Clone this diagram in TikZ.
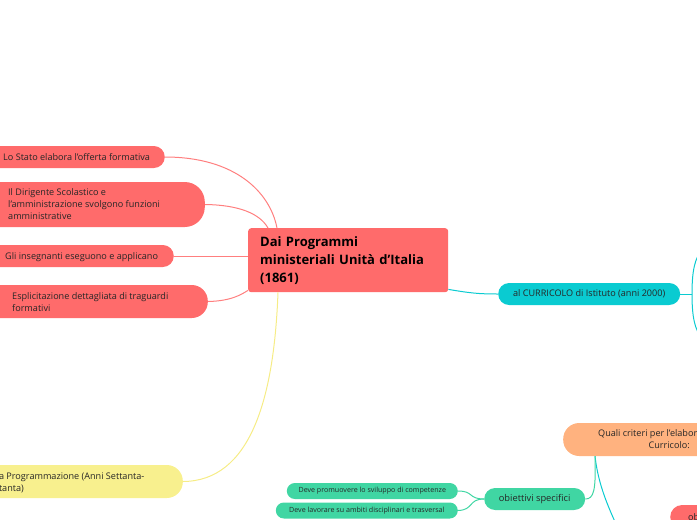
\documentclass[tikz,border=0pt]{standalone}
\usepackage{fontspec}
\setmainfont{Open Sans}
\definecolor{topicred}{HTML}{FF6B6B}
\definecolor{linkred}{HTML}{FF7F7F}
\definecolor{topicyellow}{HTML}{F8F08E}
\definecolor{linkyellow}{HTML}{F6EC86}
\definecolor{topiccyan}{HTML}{0ACBD1}
\definecolor{topicgreen}{HTML}{40D6A3}
\definecolor{topicorange}{HTML}{FFB27F}

\begin{document}
\begin{tikzpicture}[x=1pt,y=-1pt]
   \tikzstyle{every node}=[inner sep=0pt, text=black!85, font=\fontsize{9.1}{12}\selectfont]
   \tikzstyle{pill}=[minimum height=22pt, rounded corners=11pt]
   \tikzstyle{leaf}=[minimum height=16pt, rounded corners=8pt, fill=topicgreen, font=\fontsize{7.1}{8}\selectfont]
   \tikzstyle{red link}=[draw=linkred, line width=1pt]
   \tikzstyle{green link}=[draw=topicgreen, line width=1pt]
   \tikzstyle{cyan link}=[draw=topiccyan, line width=1pt]

\useasboundingbox (0,0) rectangle (697,520);
\clip (0,0) rectangle (697,520);

\node[fill=topicred, rounded corners=3pt, minimum width=200pt, minimum height=64pt,
      text width=176pt, inner xsep=12pt, align=left, anchor=north west, text=black,
      font=\bfseries\fontsize{13}{18}\selectfont] (central) at (248,228)
      {Dai Programmi\\ministeriali Unità d'Italia\\(1861)};

\node[pill, fill=topicred, minimum width=195pt, anchor=east] (stato) at (165,157) {};
\node[anchor=west] (stato-t) at (3,157) {Lo Stato elabora l'offerta formativa};

\node[pill, fill=topicred, minimum width=235pt, minimum height=45pt, rounded corners=20pt, anchor=east] (dirigente) at (205,204.5) {};
\node[anchor=west, align=left] (dirigente-t) at (8,204)
      {Il Dirigente Scolastico e\\l'amministrazione svolgono funzioni\\amministrative};

\node[pill, fill=topicred, minimum width=204pt, anchor=east] (insegnanti) at (174,256) {};
\node[anchor=west] (insegnanti-t) at (5,257) {Gli insegnanti eseguono e applicano};

\node[pill, fill=topicred, minimum width=238pt, minimum height=33pt, rounded corners=16pt, anchor=east] (traguardi) at (208,301.5) {};
\node[anchor=west, align=left] (traguardi-t) at (12,302)
      {Esplicitazione dettagliata di traguardi\\formativi};

\node[pill, fill=topicyellow, minimum width=213pt, minimum height=33pt, rounded corners=16pt, anchor=east] (programmazione) at (183,481.5) {};
\node[anchor=west, align=left] (programmazione-t) at (-11.5,483)
      {Alla Programmazione (Anni Settanta-\\Ottanta)};

\node[pill, fill=topiccyan, minimum width=182pt, anchor=west] (curricolo) at (498,294) {al CURRICOLO di Istituto (anni 2000)};

\node[pill, fill=topicorange, minimum width=212pt, minimum height=33pt, rounded corners=16pt,
      align=center, anchor=west] (criteri) at (563,439.5)
      {Quali criteri per l'elaborazione del\\Curricolo:};

\node[pill, fill=topicgreen, minimum width=101pt, font=\fontsize{9.3}{11}\selectfont, anchor=west] (specifici) at (484,499) {obiettivi specifici};

\node[leaf, minimum width=171pt, anchor=east] (competenze) at (458,491) {Deve promuovere lo sviluppo di competenze};
\node[leaf, minimum width=182pt, anchor=east] (ambiti) at (458,510.5) {Deve lavorare su ambiti disciplinari e trasversal};

\node[pill, fill=topicred, minimum width=80pt, minimum height=24pt, rounded corners=12pt,
      text width=44pt, inner xsep=18pt, align=left, anchor=west] (ob) at (670,517) {ob};

\coordinate (cur-up) at (702,250);
\coordinate (cur-down) at (702,338);
\coordinate (cur-fork) at (692,294);
\coordinate (criteri-down) at (616,524);

\draw[red link] (stato.east) .. controls (235,157) and (270,192) .. ([xshift=29pt]central.north west);
\draw[red link] (dirigente.east) .. controls (240,205) and (260,214) .. ([xshift=20pt]central.north west);
\draw[red link] (insegnanti.east) -- (insegnanti.east -| central.west);
\draw[red link] (traguardi.east) .. controls (232,301) and (242,294) .. ([yshift=2pt]central.south west);
\draw[draw=linkyellow, line width=1pt] ([xshift=30pt]central.south west) .. controls (274,400) and (250,481) .. (programmazione.east);

\draw[cyan link] ([yshift=3pt]central.south east) .. controls (470,293) and (478,294) .. (curricolo.west);
\draw[cyan link] (curricolo.east) -- (cur-fork);
\draw[cyan link] (cur-fork) .. controls (692,270) and (695,258) .. (cur-up);
\draw[cyan link] (cur-fork) .. controls (692,318) and (695,330) .. (cur-down);

\draw[cyan link] ([xshift=32pt]criteri.south west) .. controls (598,482) and (606,502) .. (criteri-down);
\draw[green link] ([xshift=32pt]criteri.south west) .. controls (596,490) and (594,499) .. (specifici.east);
\draw[green link] (competenze.east) .. controls (474,491) and (468,499) .. (specifici.west);
\draw[green link] (ambiti.east) .. controls (474,510) and (468,499) .. (specifici.west);

\end{tikzpicture}
\end{document}
